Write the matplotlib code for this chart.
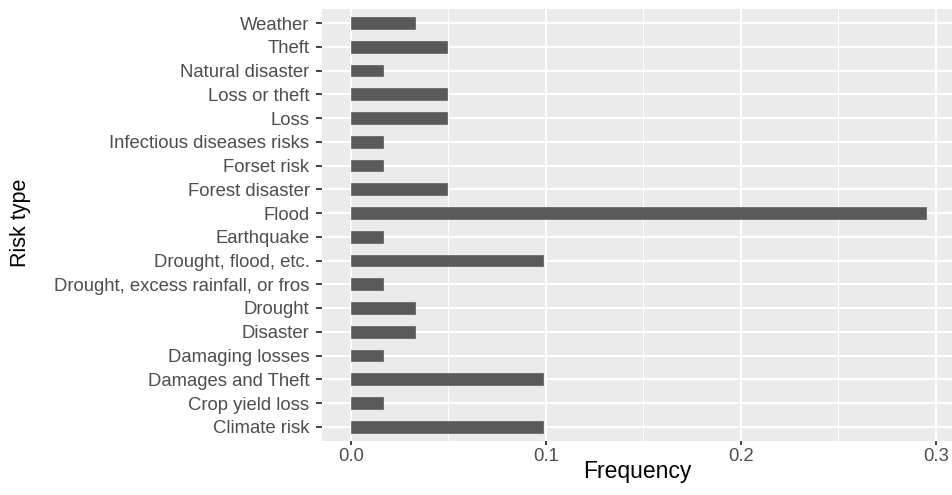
import matplotlib
matplotlib.use("Agg")
import matplotlib.pyplot as plt
from matplotlib.ticker import MultipleLocator

categories = ["Climate risk", "Crop yield loss", "Damages and Theft", "Damaging losses",
              "Disaster", "Drought", "Drought, excess rainfall, or fros", "Drought, flood, etc.",
              "Earthquake", "Flood", "Forest disaster", "Forset risk",
              "Infectious diseases risks", "Loss", "Loss or theft", "Natural disaster",
              "Theft", "Weather"]
counts = [6, 1, 6, 1, 2, 2, 1, 6, 1, 18, 3, 1, 1, 3, 3, 1, 3, 2]
total = sum(counts)
freq = [c / total for c in counts]
x_ticks = [0.0, 0.1, 0.2, 0.3]

plt.rcParams['font.family'] = ['Liberation Sans', 'DejaVu Sans']

fig = plt.figure(figsize=(9.52, 4.95), dpi=100)
ax = fig.add_axes([322 / 952, 1 - 441 / 495, (955 - 322) / 952, (441 - 8.75) / 495])
ax.set_facecolor("#EBEBEB")

ypos = list(range(len(categories)))
ax.barh(ypos, freq, height=0.5, color="#595959", edgecolor="#6b6b6b", linewidth=0.6, zorder=3)

xmax = max(freq)
ax.set_xlim(-0.05 * xmax, xmax * 1.05)
ax.set_ylim(-0.6, len(categories) - 1 + 0.6)

ax.set_yticks(ypos)
ax.set_yticklabels(categories)
ax.set_xticks(x_ticks)
ax.set_xticklabels([f"{v:.1f}" for v in x_ticks])
ax.xaxis.set_minor_locator(MultipleLocator(0.05))

ax.grid(which="major", color="white", linewidth=1.5, zorder=1)
ax.grid(which="minor", axis="x", color="white", linewidth=0.75, zorder=1)
ax.set_axisbelow(True)

for s in ax.spines.values():
    s.set_visible(False)

ax.tick_params(axis="y", which="major", length=4.5, width=1.3, color="#333333",
               labelcolor="#4D4D4D", labelsize=13.3, pad=4.5)
ax.tick_params(axis="x", which="major", length=3, width=1.3, color="#333333",
               labelcolor="#4D4D4D", labelsize=13.3, pad=2)
ax.tick_params(axis="x", which="minor", length=0)

ax.set_xlabel("Frequency", fontsize=16.5, color="black")
ax.xaxis.label.set_va("baseline")
ax.xaxis.set_label_coords(637 / 952, 1 - 477.7 / 495, transform=fig.transFigure)

ax.set_ylabel("Risk type", fontsize=15.5, color="black")
ax.yaxis.label.set_va("center")
ax.yaxis.set_label_coords(20.5 / 952, 1 - 223 / 495, transform=fig.transFigure)

fig.savefig("out.png", dpi=100)
